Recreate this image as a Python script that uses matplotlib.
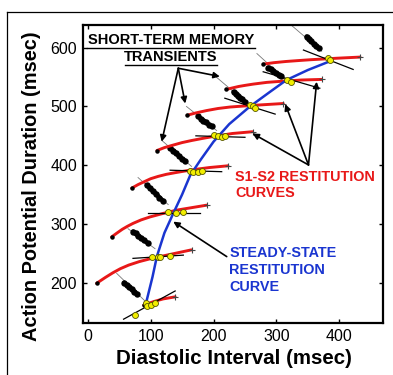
import matplotlib
matplotlib.use("Agg")
import matplotlib.pyplot as plt
from matplotlib.lines import Line2D

plt.rcParams['font.family'] = ['Liberation Sans', 'DejaVu Sans']

# ---------------- data ----------------
# steady-state restitution curve (blue)
ss_di = [94, 103, 110, 122, 136, 150, 163, 180, 200, 225, 258, 290, 316, 350, 383]
ss_apd = [171, 210, 245, 285, 318, 350, 383, 410, 440, 470, 500, 525, 545, 562, 576]

# S1-S2 restitution curves (red)
s12_di = [
    [89, 105, 120, 139],
    [14, 28, 40, 52, 65, 82, 100, 130, 165],
    [38, 47, 55, 63, 72, 85, 99, 120, 141, 189],
    [70, 80, 90, 100, 112, 125, 140, 165, 193, 223],
    [110, 122, 135, 150, 165, 182, 200, 230, 262],
    [158, 172, 189, 207, 226, 245, 265, 311],
    [220, 230, 240, 251, 263, 285, 310, 340, 372],
    [279, 296, 315, 334, 354, 395, 433],
]
s12_apd = [
    [162, 168, 172.5, 176],
    [199, 209, 217, 224, 230, 236, 241, 248, 256],
    [278, 285, 291, 296, 301, 307, 312, 318, 323.5, 332],
    [361, 367, 372, 377, 381, 384.5, 387.5, 392, 396, 399],
    [425, 430, 434, 438.5, 442, 445.5, 449, 454, 457],
    [485, 489, 493, 496.5, 499, 500.5, 502, 505],
    [529, 531.5, 534, 536, 538, 541, 543, 545, 546],
    [572, 574.5, 576.5, 578, 579.5, 582, 584],
]

# local slope lines (black) through the measured points
slope_di = [[57, 139], [72, 152], [96, 178], [131, 213], [172, 250], [218, 298], [279, 369], [343, 422]]
slope_apd = [[138, 186], [241.5, 247], [319, 319], [391.5, 389], [450, 447.5], [514, 487], [559, 531], [596, 563]]

# measured points (yellow)
pts_di = [
    [75, 92, 94, 100, 107],
    [102, 111, 115, 131],
    [127, 140, 152],
    [163, 168, 175, 182],
    [201, 207.5, 213, 218.5],
    [258, 262, 266],
    [317, 323],
    [382.5, 386],
]
pts_apd = [
    [145, 165, 160, 162, 165],
    [243, 243, 244, 245],
    [320, 319, 321],
    [390, 389, 388, 390],
    [451, 449, 448, 450],
    [503, 500, 498],
    [545, 542],
    [582, 579],
]

# short-term memory transients: guide line ends and beats
tr_line_di = [[46, 92], [64, 107], [80, 128], [118, 165], [157, 205], [200, 255], [269, 313], [324, 372]]
tr_line_apd = [[216, 168], [292, 258], [379, 333], [442, 398], [500, 459], [554, 504], [590, 547], [638, 594]]
tr_di = [
    [58, 62, 66, 70, 74, 78],
    [72, 76, 80, 85, 90, 96],
    [94, 99, 104, 109, 114, 120],
    [131, 136, 141, 145, 150, 155],
    [176, 180, 184, 188, 193, 197],
    [232, 235, 239, 242, 246, 250],
    [287, 291, 295, 299, 304, 308],
    [348, 352, 355, 359, 363, 367],
]
tr_apd = [
    [200, 196, 193, 189, 185, 181],
    [287, 284, 280, 276, 272, 267],
    [366, 361, 356, 351, 345, 339],
    [430, 425, 420, 416, 411, 407],
    [483, 479, 476, 473, 469, 466],
    [525, 522, 518, 515, 512, 508],
    [566, 563, 560, 557, 554, 551],
    [619, 615, 611, 607, 603, 599],
]

# annotation arrows
stm_apex = (144, 565)
stm_tips = [(117.6, 440), (155, 505), (210, 551)]
s12_apex = (351, 400.5)
s12_tips = [(262, 454), (314, 504), (364, 542)]
ss_from = (221, 244.5)
ss_tip = (136, 304)

x_ticks = [0, 100, 200, 300, 400]
y_ticks = [200, 300, 400, 500, 600]

RED = '#e81818'
BLUE = '#1a35d0'

# ---------------- figure ----------------
fig = plt.figure(figsize=(3.93, 3.75), dpi=100)
ax = fig.add_axes([82.7 / 393, 1 - 323.3 / 375, 300 / 393, 298.3 / 375])
ax.set_xlim(-8, 469)
ax.set_ylim(131, 638.6)

# outer frame lines
fig.add_artist(Line2D([7.3 / 393, 1.0], [1 - 12.3 / 375, 1 - 12.3 / 375], color='k', lw=0.9))
fig.add_artist(Line2D([7.3 / 393, 7.3 / 393], [0, 1 - 12.3 / 375], color='k', lw=0.9))

# transients
for lx, ly, bx, by in zip(tr_line_di, tr_line_apd, tr_di, tr_apd):
    ax.plot(lx, ly, color='#777777', lw=0.6, zorder=2)
    ax.plot(bx, by, color='k', lw=3.2, solid_capstyle='round', zorder=3)
    ax.plot(bx, by, 'o', color='k', ms=4.6, mew=0, zorder=3)

# S1-S2 restitution curves
for dx, dy in zip(s12_di, s12_apd):
    ax.plot(dx, dy, color=RED, lw=2.1, solid_capstyle='round', solid_joinstyle='round', zorder=4)
    ax.plot(dx[0], dy[0], 'o', color='k', ms=2.2, zorder=5)
    ax.plot(dx[-1], dy[-1], '+', color='#444444', ms=5, mew=0.8, zorder=5)

# steady-state curve
ax.plot(ss_di, ss_apd, color=BLUE, lw=1.8, solid_joinstyle='round', zorder=5)

# slope lines
for dx, dy in zip(slope_di, slope_apd):
    ax.plot(dx, dy, color='k', lw=0.9, zorder=6)

# yellow measured points
for dx, dy in zip(pts_di, pts_apd):
    ax.plot(dx, dy, 'o', ls='none', mfc='#f2ee00', mec='#555500', ms=4.3, mew=0.6, zorder=7)

# arrows
aprops = dict(arrowstyle='-|>', lw=1.2, color='k', mutation_scale=9, shrinkA=0, shrinkB=0)
for t in stm_tips:
    ax.annotate('', xy=t, xytext=stm_apex, arrowprops=aprops, zorder=8)
for t in s12_tips:
    ax.annotate('', xy=t, xytext=s12_apex, arrowprops=aprops, zorder=8)
ax.annotate('', xy=ss_tip, xytext=ss_from, arrowprops=aprops, zorder=8)

# texts
ax.text(132.4, 613, 'SHORT-TERM MEMORY', ha='center', va='center', fontsize=10.5,
        fontweight='bold', color='k', zorder=9)
ax.plot([-1, 266], [599, 599], color='k', lw=1.0, zorder=9, clip_on=False)
ax.text(132.4, 583.3, 'TRANSIENTS', ha='center', va='center', fontsize=10.5,
        fontweight='bold', color='k', zorder=9)
ax.plot([59, 206], [570.6, 570.6], color='k', lw=1.0, zorder=9)

ax.text(234, 380, 'S1-S2 RESTITUTION', ha='left', va='center', fontsize=10.4,
        fontweight='bold', color=RED, zorder=9)
ax.text(234, 352.4, 'CURVES', ha='left', va='center', fontsize=10.4,
        fontweight='bold', color=RED, zorder=9)

ax.text(225, 250, 'STEADY-STATE', ha='left', va='center', fontsize=10.4,
        fontweight='bold', color=BLUE, zorder=9)
ax.text(225, 221.6, 'RESTITUTION', ha='left', va='center', fontsize=10.4,
        fontweight='bold', color=BLUE, zorder=9)
ax.text(225, 192, 'CURVE', ha='left', va='center', fontsize=10.4,
        fontweight='bold', color=BLUE, zorder=9)

# axes styling
ax.set_xticks(x_ticks)
ax.set_yticks(y_ticks)
ax.tick_params(direction='in', length=3, width=1, top=True, right=True,
               labelsize=11.5, pad=4)
for s in ax.spines.values():
    s.set_linewidth(1.6)

fig.text(233.7 / 393, 1 - 358 / 375, 'Diastolic Interval (msec)', ha='center', va='center',
         fontsize=14.8, fontweight='bold')
fig.text(31.7 / 393, 1 - 186 / 375, 'Action Potential Duration (msec)', ha='center', va='center',
         fontsize=14.4, fontweight='bold', rotation=90)

fig.savefig('out.png', dpi=100)
